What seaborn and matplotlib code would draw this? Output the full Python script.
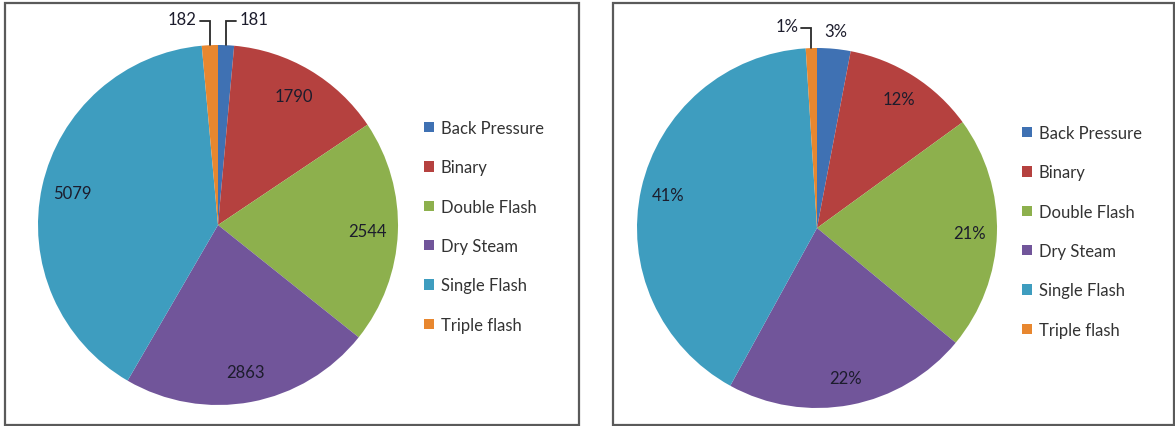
import numpy as np
import matplotlib
matplotlib.use("Agg")
import matplotlib.pyplot as plt
from matplotlib.patches import Rectangle
import seaborn as sns

# Plant technology categories and the two series shown
categories = ["Back Pressure", "Binary", "Double Flash", "Dry Steam", "Single Flash", "Triple flash"]
capacity_values = [181, 1790, 2544, 2863, 5079, 182]
share_percent = [3, 12, 21, 22, 41, 1]

colors = ["#3F71B3", "#B5413F", "#8DB04D", "#71559A", "#3E9DBF", "#E8872F"]

sns.set_theme(style="white")
plt.rcParams["font.family"] = ["Lato", "DejaVu Sans"]

W, H = 1175, 427
fig = plt.figure(figsize=(W / 100, H / 100), dpi=100)
fig.patch.set_facecolor("white")

LABEL_COLOR = "#1c1c2c"
LEGEND_COLOR = "#333333"
FS = 12


def px_axes(cx, cy, r):
    """Square axes so that a unit-radius pie is centred at (cx, cy) px (top origin) with radius r px."""
    return fig.add_axes([(cx - r) / W, (H - cy - r) / H, 2 * r / W, 2 * r / H])


def panel_box(x0, x1, y0, y1):
    fig.patches.append(Rectangle((x0 / W, (H - y1) / H), (x1 - x0) / W, (y1 - y0) / H,
                                 transform=fig.transFigure, fill=False,
                                 edgecolor="#5a5a5a", linewidth=1.6, zorder=0))


def mid_angle(w):
    return np.deg2rad((w.theta1 + w.theta2) / 2.0)


def draw_pie(ax, values):
    wedges, _ = ax.pie(values, colors=colors, startangle=90, counterclock=False,
                       radius=1.0, wedgeprops=dict(linewidth=0))
    ax.set_xlim(-1, 1)
    ax.set_ylim(-1, 1)
    ax.set_axis_off()
    return wedges


def leader(ax, w, text, side, r_px, rise=24, run=10):
    a = mid_angle(w)
    x0, y0 = np.cos(a), np.sin(a)
    ye = 1.0 + rise / r_px
    xe = x0 + (run / r_px) * (1 if side == "right" else -1)
    ax.plot([x0, x0, xe], [y0, ye, ye], color="#2a2a2a", lw=1.3, clip_on=False,
            solid_joinstyle="miter")
    pad = 3 / r_px
    ha = "left" if side == "right" else "right"
    xt = xe + pad if side == "right" else xe - pad
    ax.text(xt, ye + 2 / r_px, text, ha=ha, va="center", fontsize=FS,
            color=LABEL_COLOR, clip_on=False)


def add_legend(handles, x_px, y_px):
    fig.legend(handles, categories, loc="upper left", bbox_to_anchor=(x_px / W, 1 - y_px / H),
               frameon=False, fontsize=FS, labelcolor=LEGEND_COLOR, handlelength=0.6,
               handleheight=0.6, handletextpad=0.4, labelspacing=1.4, borderpad=0,
               borderaxespad=0)


# ---- left panel: values ----
panel_box(5, 579, 4, 426)
r1 = 180
ax1 = px_axes(218, 226, r1)
w1 = draw_pie(ax1, capacity_values)
for i, w in enumerate(w1):
    if i in (0, 5):
        continue
    a = mid_angle(w)
    ax1.text(0.83 * np.cos(a), 0.83 * np.sin(a), f"{capacity_values[i]}",
             ha="center", va="center", fontsize=FS, color=LABEL_COLOR)
leader(ax1, w1[0], f"{capacity_values[0]}", "right", r1)
leader(ax1, w1[5], f"{capacity_values[5]}", "left", r1)
add_legend(w1, 424, 121)

# ---- right panel: shares ----
panel_box(613, 1174, 4, 426)
r2 = 180
ax2 = px_axes(817, 229, r2)
w2 = draw_pie(ax2, share_percent)
for i, w in enumerate(w2):
    if i in (0, 5):
        continue
    a = mid_angle(w)
    ax2.text(0.85 * np.cos(a), 0.85 * np.sin(a), f"{share_percent[i]}%",
             ha="center", va="center", fontsize=FS, color=LABEL_COLOR)
a0 = mid_angle(w2[0])
ax2.text(1.1 * np.cos(a0), 1.1 * np.sin(a0), f"{share_percent[0]}%",
         ha="center", va="center", fontsize=FS, color=LABEL_COLOR, clip_on=False)
leader(ax2, w2[5], f"{share_percent[5]}%", "left", r2, rise=20, run=10)
add_legend(w2, 1022, 126)

fig.savefig("out.png", dpi=100, facecolor="white")
